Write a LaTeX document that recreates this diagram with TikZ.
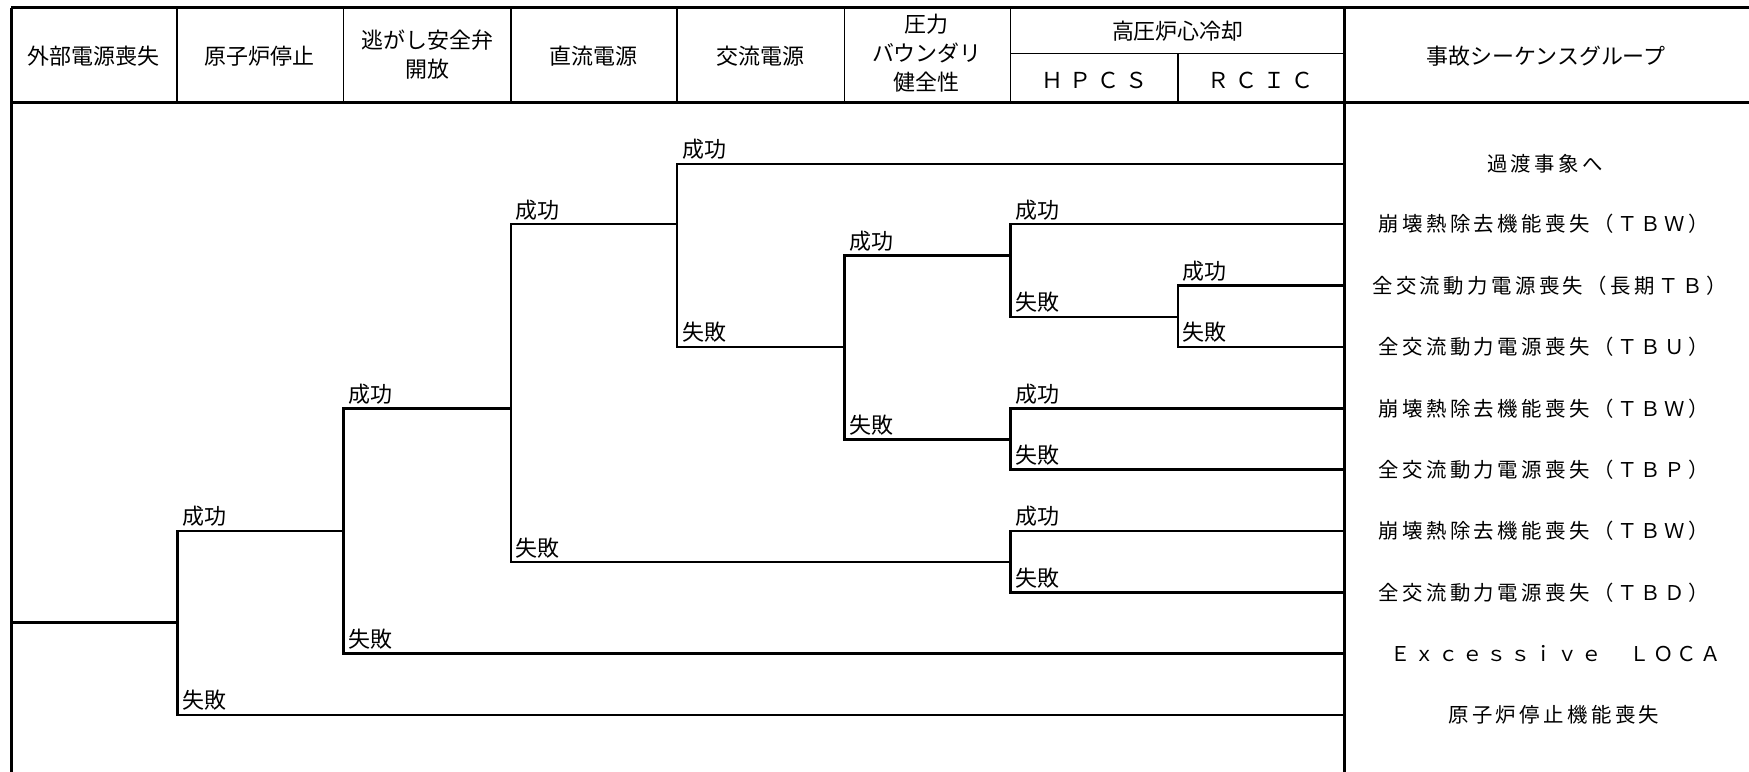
\documentclass[tikz,border=0pt]{standalone}
\usepackage{fontspec}
\setmainfont{Noto Sans CJK JP}
\makeatletter
\newcommand\spacedtext[2]{\@tfor\spc@ch:=#2\do{\spc@ch\kern#1}\unkern}
\makeatother
\begin{document}
\begin{tikzpicture}[x=0.025cm,y=-0.025cm,
  treeline/.style={line width=1.6pt, line cap=rect},
  gridline/.style={line width=1.1pt},
  thickline/.style={line width=2pt},
  hdr/.style={font=\fontsize{14}{18.5}\selectfont, align=center, inner sep=0pt},
  brlabel/.style={font=\fontsize{14}{15}\selectfont, anchor=south west, inner sep=0pt},
  result/.style={font=\fontsize{13}{15}\selectfont, anchor=center, inner sep=0pt}]
\useasboundingbox (0,0) rectangle (1568,692);
% ---------- table frame ----------
\draw[thickline] (10,7) -- (1568,7);
\draw[thickline] (10,92) -- (1568,92);
\draw[gridline] (906,48) -- (1205,48);
\draw[thickline] (10,7) -- (10,692);
\draw[thickline] (1205,7) -- (1205,692);
\foreach \xx in {159,308,458,607,757,906}
  \draw[gridline] (\xx,7) -- (\xx,92);
\draw[gridline] (1056,48) -- (1056,92);
% ---------- header texts ----------
\node[hdr] (h1) at (84,50) {外部電源喪失};
\node[hdr] (h2) at (233,50) {原子炉停止};
\node[hdr] (h3) at (383,49) {逃がし安全弁\\開放};
\node[hdr] (h4) at (532,50) {直流電源};
\node[hdr] (h5) at (682,50) {交流電源};
\node[hdr] (h6) at (831,48) {圧力\\バウンダリ\\健全性};
\node[hdr] (h7) at (1056,28) {高圧炉心冷却};
\node[hdr] (h8) at (981,72) {\spacedtext{3.8pt}{ＨＰＣＳ}};
\node[hdr] (h9) at (1130,72) {\spacedtext{3.8pt}{ＲＣＩＣ}};
\node[hdr] (h10) at (1386,50) {事故シーケンスグループ};
% ---------- tree coordinates ----------
\coordinate (s0) at (10,558);
\coordinate (b1) at (159,558);
\coordinate (b1u) at (159,476);
\coordinate (b1d) at (159,641);
\coordinate (b2) at (308,476);
\coordinate (b2u) at (308,366);
\coordinate (b2d) at (308,586);
\coordinate (b3) at (458,366);
\coordinate (b3u) at (458,201);
\coordinate (b3d) at (458,504);
\coordinate (b4) at (607,201);
\coordinate (b4u) at (607,147);
\coordinate (b4d) at (607,311);
\coordinate (b5) at (757,311);
\coordinate (b5u) at (757,229);
\coordinate (b5d) at (757,394);
\coordinate (b6) at (906,229);
\coordinate (b6u) at (906,201);
\coordinate (b6d) at (906,284);
\coordinate (b9) at (1056,284);
\coordinate (b9u) at (1056,256);
\coordinate (b9d) at (1056,311);
\coordinate (b7) at (906,394);
\coordinate (b7u) at (906,366);
\coordinate (b7d) at (906,421);
\coordinate (b8) at (906,504);
\coordinate (b8u) at (906,476);
\coordinate (b8d) at (906,531);
\coordinate (e1) at (1205,147);
\coordinate (e2) at (1205,201);
\coordinate (e3) at (1205,256);
\coordinate (e4) at (1205,311);
\coordinate (e5) at (1205,366);
\coordinate (e6) at (1205,421);
\coordinate (e7) at (1205,476);
\coordinate (e8) at (1205,531);
\coordinate (e9) at (1205,586);
\coordinate (e10) at (1205,641);
% ---------- tree lines ----------
\draw[treeline] (s0) -- (b1);
\draw[treeline] (b1u) -- (b1d);
\draw[treeline] (b1d) -- (e10);
\draw[treeline] (b1u) -- (b2);
\draw[treeline] (b2u) -- (b2d);
\draw[treeline] (b2d) -- (e9);
\draw[treeline] (b2u) -- (b3);
\draw[treeline] (b3u) -- (b3d);
\draw[treeline] (b3u) -- (b4);
\draw[treeline] (b3d) -- (b8);
\draw[treeline] (b4u) -- (b4d);
\draw[treeline] (b4u) -- (e1);
\draw[treeline] (b4d) -- (b5);
\draw[treeline] (b5u) -- (b5d);
\draw[treeline] (b5u) -- (b6);
\draw[treeline] (b5d) -- (b7);
\draw[treeline] (b6u) -- (b6d);
\draw[treeline] (b6u) -- (e2);
\draw[treeline] (b6d) -- (b9);
\draw[treeline] (b9u) -- (b9d);
\draw[treeline] (b9u) -- (e3);
\draw[treeline] (b9d) -- (e4);
\draw[treeline] (b7u) -- (b7d);
\draw[treeline] (b7u) -- (e5);
\draw[treeline] (b7d) -- (e6);
\draw[treeline] (b8u) -- (b8d);
\draw[treeline] (b8u) -- (e7);
\draw[treeline] (b8d) -- (e8);
% ---------- branch labels ----------
\tikzset{lbl/.style={xshift=3pt,yshift=2.5pt}}
\node[brlabel] (l1s) at ([lbl]b1u) {成功};
\node[brlabel] (l1f) at ([lbl]b1d) {失敗};
\node[brlabel] (l2s) at ([lbl]b2u) {成功};
\node[brlabel] (l2f) at ([lbl]b2d) {失敗};
\node[brlabel] (l3s) at ([lbl]b3u) {成功};
\node[brlabel] (l3f) at ([lbl]b3d) {失敗};
\node[brlabel] (l4s) at ([lbl]b4u) {成功};
\node[brlabel] (l4f) at ([lbl]b4d) {失敗};
\node[brlabel] (l5s) at ([lbl]b5u) {成功};
\node[brlabel] (l5f) at ([lbl]b5d) {失敗};
\node[brlabel] (l6s) at ([lbl]b6u) {成功};
\node[brlabel] (l6f) at ([lbl]b6d) {失敗};
\node[brlabel] (l9s) at ([lbl]b9u) {成功};
\node[brlabel] (l9f) at ([lbl]b9d) {失敗};
\node[brlabel] (l7s) at ([lbl]b7u) {成功};
\node[brlabel] (l7f) at ([lbl]b7d) {失敗};
\node[brlabel] (l8s) at ([lbl]b8u) {成功};
\node[brlabel] (l8f) at ([lbl]b8d) {失敗};
% ---------- results ----------
\node[result] (r1) at (1385,147) {\spacedtext{2.2pt}{過渡事象へ}};
\node[result] (r2) at (1384,201) {\spacedtext{2.2pt}{崩壊熱除去機能喪失（ＴＢＷ）}};
\node[result] (r3) at (1389,256) {\spacedtext{2.2pt}{全交流動力電源喪失（長期ＴＢ）}};
\node[result] (r4) at (1384,311) {\spacedtext{2.2pt}{全交流動力電源喪失（ＴＢＵ）}};
\node[result] (r5) at (1384,366) {\spacedtext{2.2pt}{崩壊熱除去機能喪失（ＴＢＷ）}};
\node[result] (r6) at (1384,421) {\spacedtext{2.2pt}{全交流動力電源喪失（ＴＢＰ）}};
\node[result] (r7) at (1384,476) {\spacedtext{2.2pt}{崩壊熱除去機能喪失（ＴＢＷ）}};
\node[result] (r8) at (1384,531) {\spacedtext{2.2pt}{全交流動力電源喪失（ＴＢＤ）}};
\node[result] (r9) at (1395,586) {\spacedtext{2.2pt}{Ｅｘｃｅｓｓｉｖｅ　ＬＯＣＡ}};
\node[result] (r10) at (1393,641) {\spacedtext{2.2pt}{原子炉停止機能喪失}};
\end{tikzpicture}
\end{document}
